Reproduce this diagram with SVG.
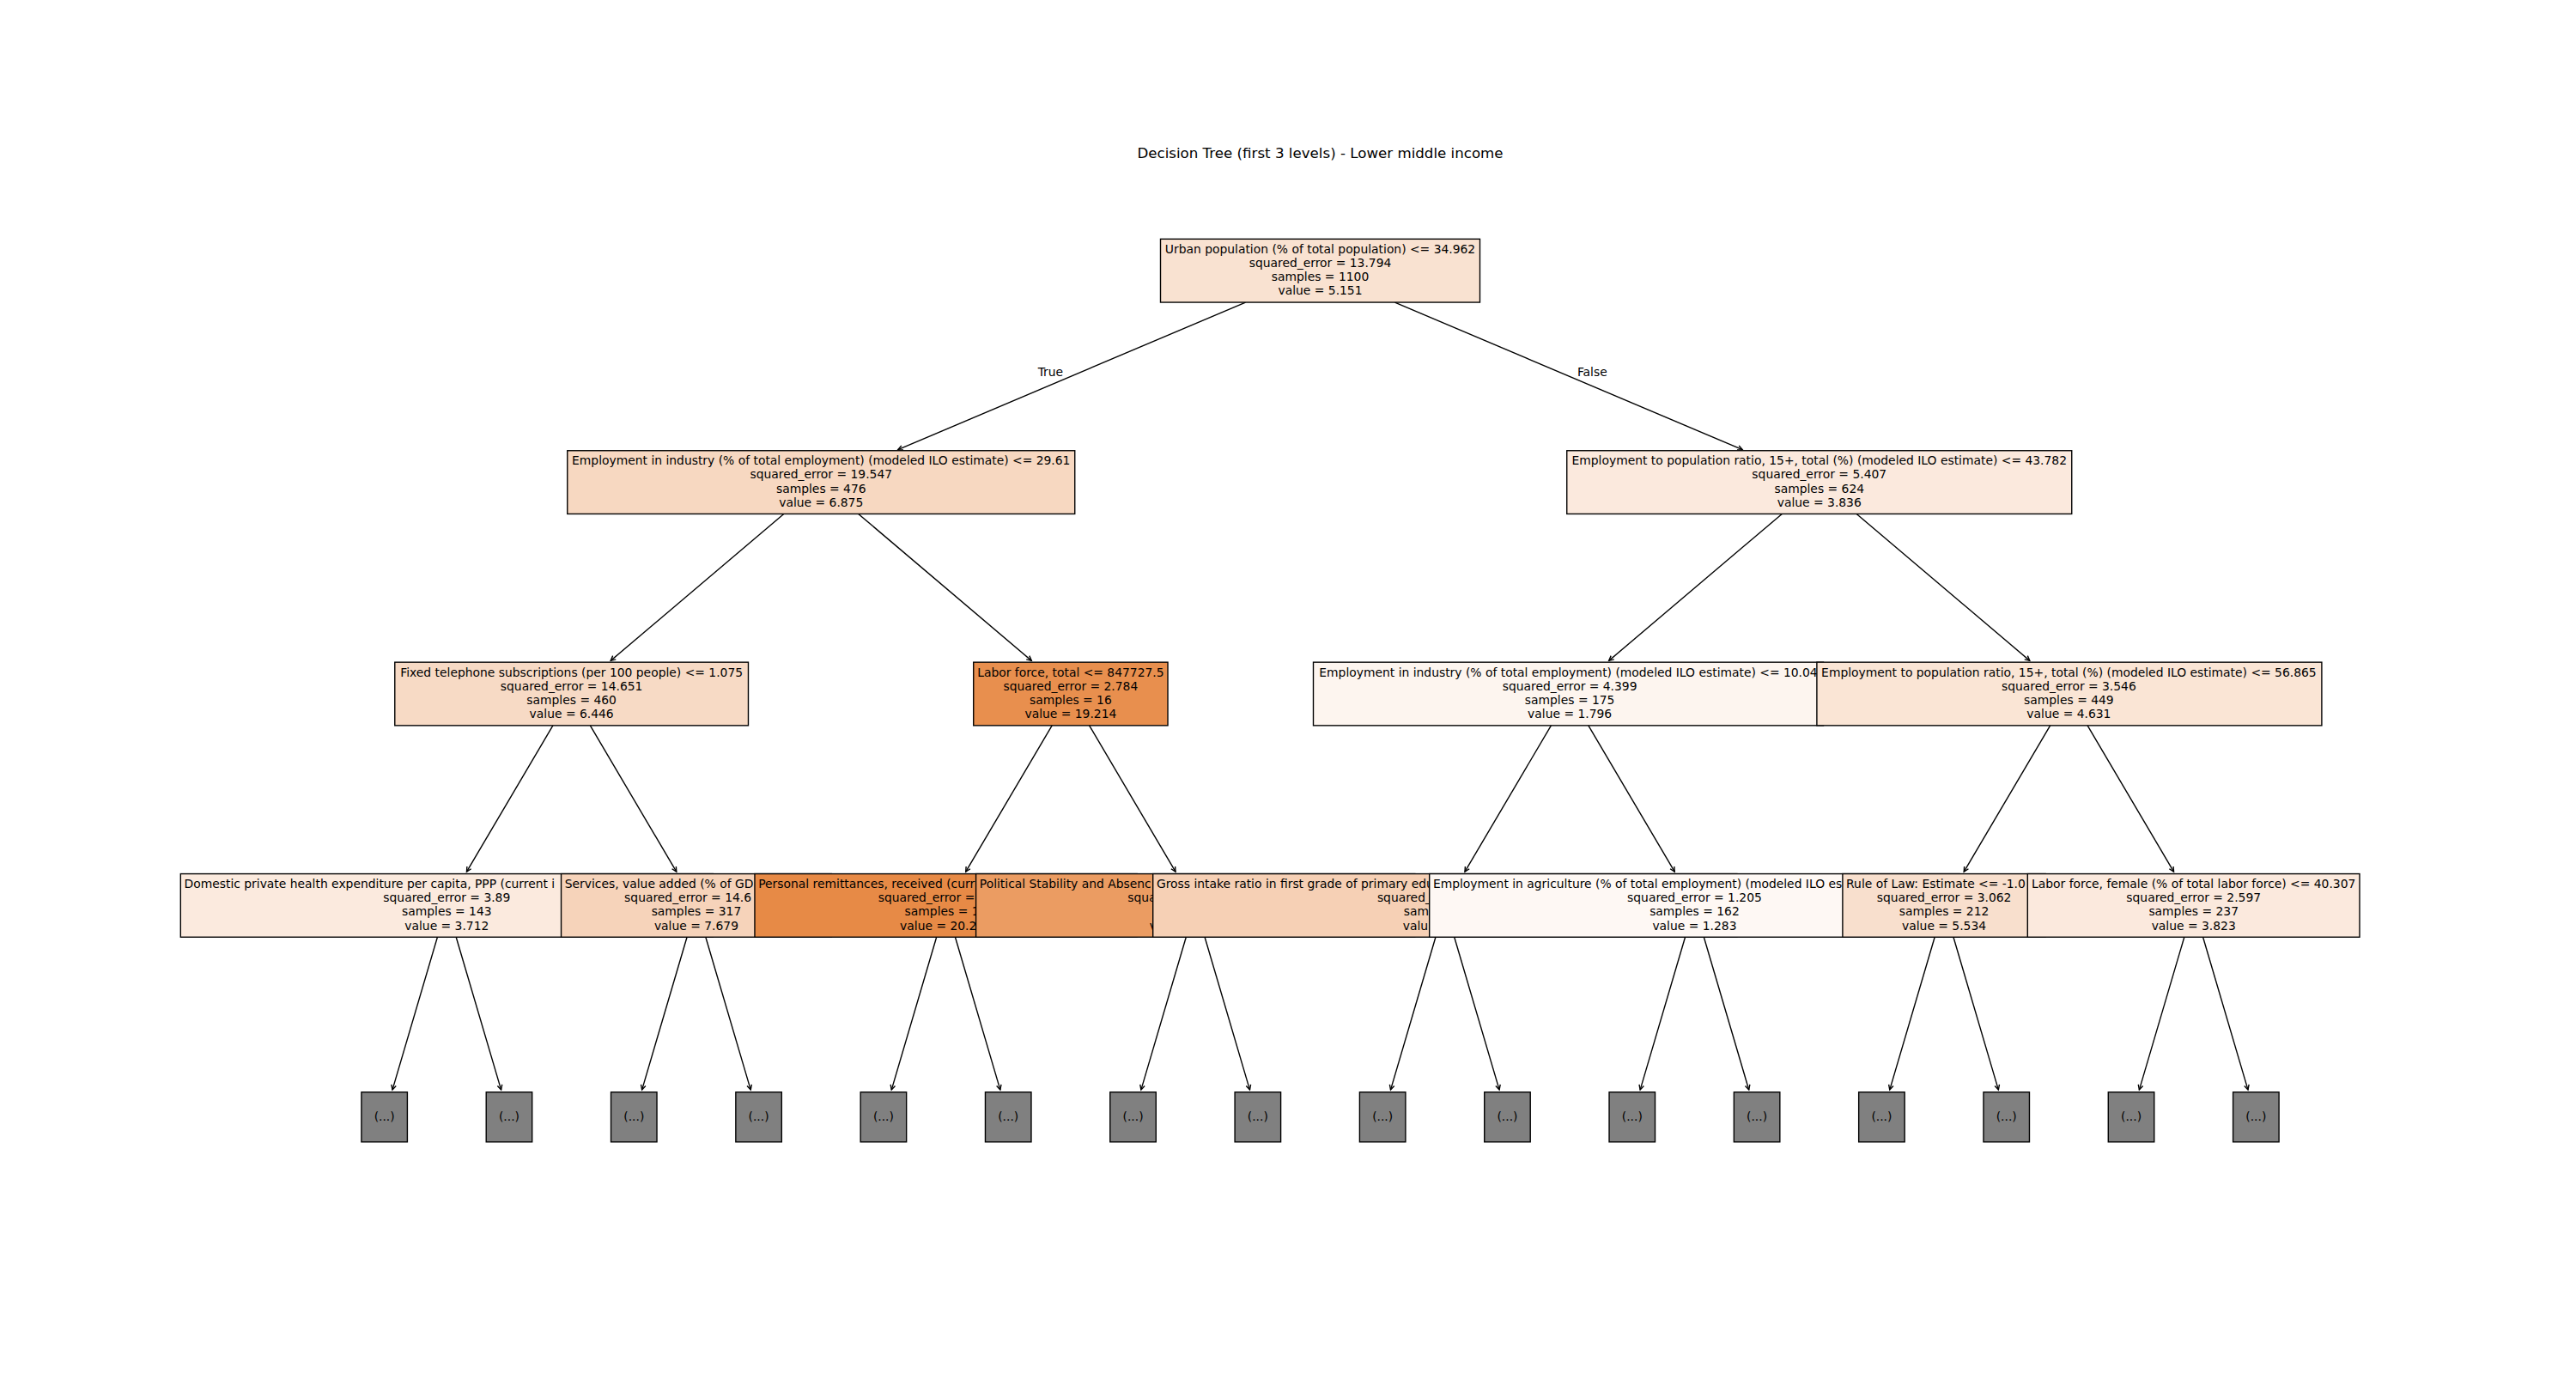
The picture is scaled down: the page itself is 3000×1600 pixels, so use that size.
<svg xmlns="http://www.w3.org/2000/svg" width="3000" height="1600" viewBox="0 0 3000 1600">
<style>
.box{stroke:#000;stroke-width:1.39}
.t{font-family:"DejaVu Sans","Liberation Sans",sans-serif;font-size:13.89px;fill:#000}
.c{text-anchor:middle}
.s{text-anchor:start}
.e{text-anchor:end}
.edge{stroke:#000;stroke-width:1.39;fill:none;marker-end:url(#ah)}
.leaf{fill:#808080;stroke:#000;stroke-width:1.39}
</style>
<defs>
<marker id="ah" viewBox="-7 -4 9 8" markerWidth="9" markerHeight="8" refX="0" refY="0" orient="auto" markerUnits="userSpaceOnUse">
<path d="M-5.56,-2.78 L0,0 L-5.56,2.78" fill="none" stroke="#000" stroke-width="1.39"/>
</marker>
</defs>
<rect x="0" y="0" width="3000" height="1600" fill="#fff"/>
<text class="t c" x="1537.5" y="183.7" style="font-size:16.67px">Decision Tree (first 3 levels) - Lower middle income</text>

<g id="connectors">
<line class="edge" x1="1450.55" y1="352.05" x2="1045.76" y2="523.67"/>
<line class="edge" x1="1624.45" y1="352.05" x2="2029.24" y2="523.67"/>
<line class="edge" x1="912.78" y1="598.45" x2="711.22" y2="769.35"/>
<line class="edge" x1="999.72" y1="598.45" x2="1201.28" y2="769.35"/>
<line class="edge" x1="2075.28" y1="598.45" x2="1873.72" y2="769.35"/>
<line class="edge" x1="2162.22" y1="598.45" x2="2363.78" y2="769.35"/>
<line class="edge" x1="643.9" y1="844.85" x2="543.46" y2="1015.16"/>
<line class="edge" x1="687.36" y1="844.85" x2="787.8" y2="1015.16"/>
<line class="edge" x1="1225.15" y1="844.85" x2="1124.71" y2="1015.16"/>
<line class="edge" x1="1268.61" y1="844.85" x2="1369.05" y2="1015.16"/>
<line class="edge" x1="1806.4" y1="844.85" x2="1705.96" y2="1015.16"/>
<line class="edge" x1="1849.86" y1="844.85" x2="1950.3" y2="1015.16"/>
<line class="edge" x1="2387.65" y1="844.85" x2="2287.21" y2="1015.16"/>
<line class="edge" x1="2431.11" y1="844.85" x2="2531.55" y2="1015.16"/>
<line class="edge" x1="509.43" y1="1091.25" x2="456.99" y2="1269.1"/>
<line class="edge" x1="531.19" y1="1091.25" x2="583.63" y2="1269.1"/>
<line class="edge" x1="800.06" y1="1091.25" x2="747.62" y2="1269.1"/>
<line class="edge" x1="821.82" y1="1091.25" x2="874.26" y2="1269.1"/>
<line class="edge" x1="1090.68" y1="1091.25" x2="1038.24" y2="1269.1"/>
<line class="edge" x1="1112.44" y1="1091.25" x2="1164.88" y2="1269.1"/>
<line class="edge" x1="1381.31" y1="1091.25" x2="1328.87" y2="1269.1"/>
<line class="edge" x1="1403.07" y1="1091.25" x2="1455.51" y2="1269.1"/>
<line class="edge" x1="1671.93" y1="1091.25" x2="1619.49" y2="1269.1"/>
<line class="edge" x1="1693.69" y1="1091.25" x2="1746.13" y2="1269.1"/>
<line class="edge" x1="1962.56" y1="1091.25" x2="1910.12" y2="1269.1"/>
<line class="edge" x1="1984.32" y1="1091.25" x2="2036.76" y2="1269.1"/>
<line class="edge" x1="2253.18" y1="1091.25" x2="2200.74" y2="1269.1"/>
<line class="edge" x1="2274.94" y1="1091.25" x2="2327.38" y2="1269.1"/>
<line class="edge" x1="2543.81" y1="1091.25" x2="2491.37" y2="1269.1"/>
<line class="edge" x1="2565.57" y1="1091.25" x2="2618.01" y2="1269.1"/>
<text class="t e" x="1238.1" y="438.4">True</text>
<text class="t s" x="1836.9" y="438.4">False</text>
</g>

<g id="leaf-0"><rect class="leaf" x="420.91" y="1271.8" width="53.5" height="58"/><text class="t c" x="447.66" y="1304.6">(...)</text></g>
<g id="leaf-1"><rect class="leaf" x="566.22" y="1271.8" width="53.5" height="58"/><text class="t c" x="592.97" y="1304.6">(...)</text></g>
<g id="leaf-2"><rect class="leaf" x="711.53" y="1271.8" width="53.5" height="58"/><text class="t c" x="738.28" y="1304.6">(...)</text></g>
<g id="leaf-3"><rect class="leaf" x="856.84" y="1271.8" width="53.5" height="58"/><text class="t c" x="883.59" y="1304.6">(...)</text></g>
<g id="leaf-4"><rect class="leaf" x="1002.16" y="1271.8" width="53.5" height="58"/><text class="t c" x="1028.91" y="1304.6">(...)</text></g>
<g id="leaf-5"><rect class="leaf" x="1147.47" y="1271.8" width="53.5" height="58"/><text class="t c" x="1174.22" y="1304.6">(...)</text></g>
<g id="leaf-6"><rect class="leaf" x="1292.78" y="1271.8" width="53.5" height="58"/><text class="t c" x="1319.53" y="1304.6">(...)</text></g>
<g id="leaf-7"><rect class="leaf" x="1438.09" y="1271.8" width="53.5" height="58"/><text class="t c" x="1464.84" y="1304.6">(...)</text></g>
<g id="leaf-8"><rect class="leaf" x="1583.41" y="1271.8" width="53.5" height="58"/><text class="t c" x="1610.16" y="1304.6">(...)</text></g>
<g id="leaf-9"><rect class="leaf" x="1728.72" y="1271.8" width="53.5" height="58"/><text class="t c" x="1755.47" y="1304.6">(...)</text></g>
<g id="leaf-10"><rect class="leaf" x="1874.03" y="1271.8" width="53.5" height="58"/><text class="t c" x="1900.78" y="1304.6">(...)</text></g>
<g id="leaf-11"><rect class="leaf" x="2019.34" y="1271.8" width="53.5" height="58"/><text class="t c" x="2046.09" y="1304.6">(...)</text></g>
<g id="leaf-12"><rect class="leaf" x="2164.66" y="1271.8" width="53.5" height="58"/><text class="t c" x="2191.41" y="1304.6">(...)</text></g>
<g id="leaf-13"><rect class="leaf" x="2309.97" y="1271.8" width="53.5" height="58"/><text class="t c" x="2336.72" y="1304.6">(...)</text></g>
<g id="leaf-14"><rect class="leaf" x="2455.28" y="1271.8" width="53.5" height="58"/><text class="t c" x="2482.03" y="1304.6">(...)</text></g>
<g id="leaf-15"><rect class="leaf" x="2600.59" y="1271.8" width="53.5" height="58"/><text class="t c" x="2627.34" y="1304.6">(...)</text></g>

<g id="node-domestic">
<rect class="box" x="210.31" y="1017.55" width="620" height="73.7" fill="#fbeade"/>
<text class="t s" x="214.5" y="1033.9">Domestic private health expenditure per capita, PPP (current i</text>
<text class="t c" x="520.31" y="1050.1">squared_error = 3.89</text>
<text class="t c" x="520.31" y="1066.3">samples = 143</text>
<text class="t c" x="520.31" y="1082.5">value = 3.712</text>
</g>
<g id="node-services">
<rect class="box" x="653.54" y="1017.55" width="314.8" height="73.7" fill="#f6d3ba"/>
<text class="t s" x="657.7" y="1033.9">Services, value added (% of GD</text>
<text class="t s" x="727.1" y="1050.1">squared_error = 14.6</text>
<text class="t c" x="810.94" y="1066.3">samples = 317</text>
<text class="t c" x="810.94" y="1082.5">value = 7.679</text>
</g>
<g id="node-remittances">
<rect class="box" x="878.96" y="1017.55" width="445.2" height="73.7" fill="#e78a46"/>
<text class="t s" x="883.2" y="1033.9">Personal remittances, received (curr</text>
<text class="t s" x="1022.7" y="1050.1">squared_error =</text>
<text class="t s" x="1053.6" y="1066.3">samples = 1</text>
<text class="t s" x="1048.1" y="1082.5">value = 20.2</text>
</g>
<g id="node-political">
<rect class="box" x="1136.6" y="1017.55" width="511.2" height="73.7" fill="#eb9c62"/>
<text class="t s" x="1140.8" y="1033.9">Political Stability and Absenc</text>
<text class="t s" x="1313.3" y="1050.1">squa</text>
<text class="t s" x="1338.7" y="1082.5">v</text>
</g>
<g id="node-gross">
<rect class="box" x="1342.7" y="1017.55" width="680.2" height="73.7" fill="#f6d0b5"/>
<text class="t s" x="1346.9" y="1033.9">Gross intake ratio in first grade of primary edu</text>
<text class="t s" x="1603.9" y="1050.1">squared_</text>
<text class="t s" x="1634.8" y="1066.3">sam</text>
<text class="t s" x="1633.7" y="1082.5">valu</text>
</g>
<g id="node-agriculture">
<rect class="box" x="1664.7" y="1017.55" width="617.4" height="73.7" fill="#fef8f4"/>
<text class="t s" x="1668.9" y="1033.9">Employment in agriculture (% of total employment) (modeled ILO es</text>
<text class="t c" x="1973.44" y="1050.1">squared_error = 1.205</text>
<text class="t c" x="1973.44" y="1066.3">samples = 162</text>
<text class="t c" x="1973.44" y="1082.5">value = 1.283</text>
</g>
<g id="node-ruleoflaw">
<rect class="box" x="2145.9" y="1017.55" width="236.3" height="73.7" fill="#f8dfcd"/>
<text class="t s" x="2150.1" y="1033.9">Rule of Law: Estimate &lt;= -1.0</text>
<text class="t c" x="2264.06" y="1050.1">squared_error = 3.062</text>
<text class="t c" x="2264.06" y="1066.3">samples = 212</text>
<text class="t c" x="2264.06" y="1082.5">value = 5.534</text>
</g>
<g id="node-laborfemale">
<rect class="box" x="2361.3" y="1017.55" width="386.7" height="73.7" fill="#fbe9dd"/>
<text class="t c" x="2554.69" y="1033.9">Labor force, female (% of total labor force) &lt;= 40.307</text>
<text class="t c" x="2554.69" y="1050.1">squared_error = 2.597</text>
<text class="t c" x="2554.69" y="1066.3">samples = 237</text>
<text class="t c" x="2554.69" y="1082.5">value = 3.823</text>
</g>

<g id="node-telephone">
<rect class="box" x="459.78" y="771.15" width="411.7" height="73.7" fill="#f7dac5"/>
<text class="t c" x="665.63" y="787.5">Fixed telephone subscriptions (per 100 people) &lt;= 1.075</text>
<text class="t c" x="665.63" y="803.7">squared_error = 14.651</text>
<text class="t c" x="665.63" y="819.9">samples = 460</text>
<text class="t c" x="665.63" y="836.1">value = 6.446</text>
</g>
<g id="node-laborforce">
<rect class="box" x="1133.73" y="771.15" width="226.3" height="73.7" fill="#e88f4e"/>
<text class="t c" x="1246.88" y="787.5">Labor force, total &lt;= 847727.5</text>
<text class="t c" x="1246.88" y="803.7">squared_error = 2.784</text>
<text class="t c" x="1246.88" y="819.9">samples = 16</text>
<text class="t c" x="1246.88" y="836.1">value = 19.214</text>
</g>
<g id="node-industry2">
<rect class="box" x="1529.5" y="771.15" width="594" height="73.7" fill="#fdf5ef"/>
<text class="t c" x="1826.5" y="787.5">Employment in industry (% of total employment) (modeled ILO estimate) &lt;= 10.04</text>
<text class="t c" x="1828.13" y="803.7">squared_error = 4.399</text>
<text class="t c" x="1828.13" y="819.9">samples = 175</text>
<text class="t c" x="1828.13" y="836.1">value = 1.796</text>
</g>
<g id="node-emppop2">
<rect class="box" x="2115.9" y="771.15" width="588" height="73.7" fill="#fae5d5"/>
<text class="t c" x="2409.38" y="787.5">Employment to population ratio, 15+, total (%) (modeled ILO estimate) &lt;= 56.865</text>
<text class="t c" x="2409.38" y="803.7">squared_error = 3.546</text>
<text class="t c" x="2409.38" y="819.9">samples = 449</text>
<text class="t c" x="2409.38" y="836.1">value = 4.631</text>
</g>

<g id="node-industry1">
<rect class="box" x="660.75" y="524.75" width="591" height="73.7" fill="#f7d8c1"/>
<text class="t c" x="956.25" y="541.1">Employment in industry (% of total employment) (modeled ILO estimate) &lt;= 29.61</text>
<text class="t c" x="956.25" y="557.3">squared_error = 19.547</text>
<text class="t c" x="956.25" y="573.5">samples = 476</text>
<text class="t c" x="956.25" y="589.7">value = 6.875</text>
</g>
<g id="node-emppop1">
<rect class="box" x="1824.75" y="524.75" width="588" height="73.7" fill="#fbe9dd"/>
<text class="t c" x="2118.75" y="541.1">Employment to population ratio, 15+, total (%) (modeled ILO estimate) &lt;= 43.782</text>
<text class="t c" x="2118.75" y="557.3">squared_error = 5.407</text>
<text class="t c" x="2118.75" y="573.5">samples = 624</text>
<text class="t c" x="2118.75" y="589.7">value = 3.836</text>
</g>

<g id="node-root">
<rect class="box" x="1351.5" y="278.35" width="372" height="73.7" fill="#f9e2d1"/>
<text class="t c" x="1537.5" y="294.7">Urban population (% of total population) &lt;= 34.962</text>
<text class="t c" x="1537.5" y="310.9">squared_error = 13.794</text>
<text class="t c" x="1537.5" y="327.1">samples = 1100</text>
<text class="t c" x="1537.5" y="343.3">value = 5.151</text>
</g>
</svg>
